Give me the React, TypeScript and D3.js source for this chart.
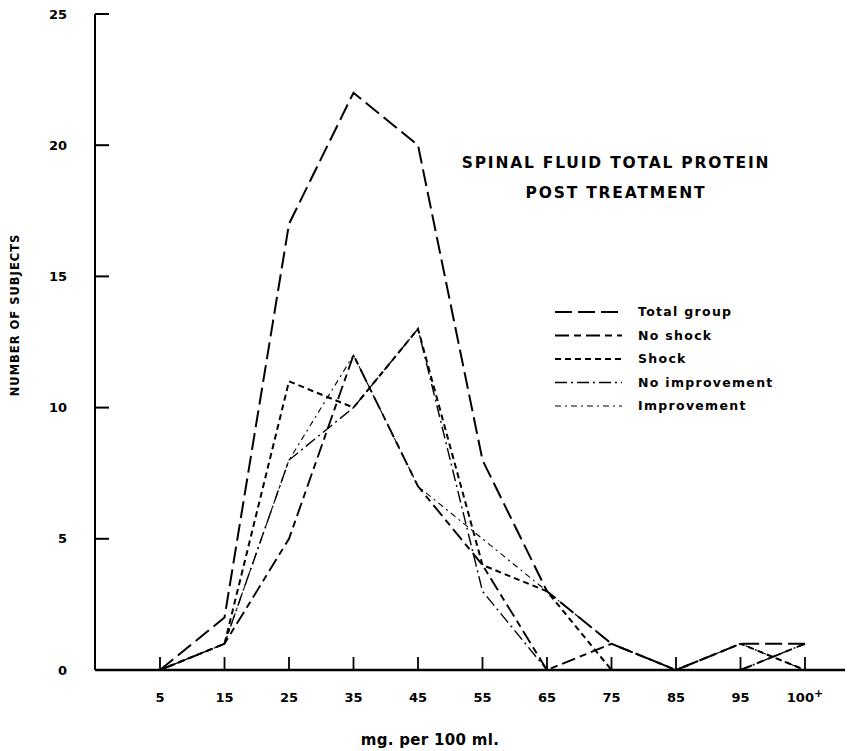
import * as d3 from "d3";

const categories = ["5", "15", "25", "35", "45", "55", "65", "75", "85", "95", "100+"];
const totalGroup = [0, 2, 17, 22, 20, 8, 3, 1, 0, 1, 1];
const noShock = [0, 1, 5, 12, 7, 4, 0, 1, 0, 0, 1];
const shock = [0, 1, 11, 10, 13, 4, 3, 0, 0, 1, 0];
const noImprovement = [0, 1, 8, 10, 13, 3, 0, 0, 0, 0, 1];
const improvement = [0, 1, 8, 12, 7, 5, 3, 1, 0, 1, 0];
const yTicks = [0, 5, 10, 15, 20, 25];

const series = [
  { name: "Total group", values: totalGroup, dash: "17,6", width: 2 },
  { name: "No shock", values: noShock, dash: "14,5,7,5", width: 1.9 },
  { name: "Shock", values: shock, dash: "6,4", width: 2 },
  { name: "No improvement", values: noImprovement, dash: "12,4,2,4", width: 1.4 },
  { name: "Improvement", values: improvement, dash: "6,4,2,4", width: 1.1 },
];

const W = 858;
const H = 751;
const font = "'DejaVu Sans', Verdana, sans-serif";

export default function App() {
  const x = d3.scalePoint<string>().domain(categories).range([160, 805]).padding(0);
  const y = d3.scaleLinear().domain([0, 25]).range([670, 14]);
  const axisX0 = 95;

  const line = (vals: number[]) =>
    d3
      .line<number>()
      .x((_, i) => x(categories[i]) as number)
      .y((d) => y(d))(vals) as string;

  return (
    <svg
      width={W}
      height={H}
      viewBox={`0 0 ${W} ${H}`}
      style={{ position: "absolute", left: 0, top: 0, background: "#fff" }}
      fontFamily={font}
    >
      {/* axes */}
      <line x1={axisX0} x2={axisX0} y1={y(25)} y2={y(0)} stroke="#000" strokeWidth={2} />
      <line x1={axisX0} x2={845} y1={y(0)} y2={y(0)} stroke="#000" strokeWidth={2.5} />
      {yTicks.map((t) => (
        <g key={t}>
          {t > 0 && <line x1={axisX0} x2={axisX0 + 14} y1={y(t)} y2={y(t)} stroke="#000" strokeWidth={2} />}
          <text x={67} y={y(t)} dy="0.35em" textAnchor="end" fontSize={13} fontWeight="bold">
            {t}
          </text>
        </g>
      ))}
      {categories.map((c) => (
        <g key={c}>
          <line x1={x(c)} x2={x(c)} y1={y(0)} y2={y(0) - 13} stroke="#000" strokeWidth={1.8} />
          <text x={x(c)} y={702} textAnchor="middle" fontSize={13} fontWeight="bold">
            {c.endsWith("+") ? (
              <>
                {c.slice(0, -1)}
                <tspan dy={-5} fontSize={11}>+</tspan>
              </>
            ) : (
              c
            )}
          </text>
        </g>
      ))}

      {/* axis titles */}
      <text
        transform="translate(19,315) rotate(-90)"
        textAnchor="middle"
        fontSize={11.5}
        fontWeight="bold"
        letterSpacing={1}
      >
        NUMBER OF SUBJECTS
      </text>
      <text x={430} y={745} textAnchor="middle" fontSize={15} fontWeight="bold" letterSpacing={0.3}>
        mg. per 100 ml.
      </text>

      {/* title */}
      <text x={616} y={168} textAnchor="middle" fontSize={15.5} fontWeight="bold" letterSpacing={1.8}>
        SPINAL FLUID TOTAL PROTEIN
      </text>
      <text x={616} y={198} textAnchor="middle" fontSize={15.5} fontWeight="bold" letterSpacing={1.8}>
        POST TREATMENT
      </text>

      {/* lines */}
      {series.map((s) => (
        <path
          key={s.name}
          d={line(s.values)}
          fill="none"
          stroke="#000"
          strokeWidth={s.width}
          strokeDasharray={s.dash}
        />
      ))}

      {/* legend */}
      {series.map((s, i) => {
        const ly = 312 + i * 23.5;
        return (
          <g key={s.name}>
            <line x1={555} x2={622} y1={ly} y2={ly} stroke="#000" strokeWidth={s.width} strokeDasharray={s.dash} />
            <text x={638} y={ly} dy="0.35em" fontSize={12.5} fontWeight="bold" letterSpacing={1.3}>
              {s.name}
            </text>
          </g>
        );
      })}
    </svg>
  );
}
